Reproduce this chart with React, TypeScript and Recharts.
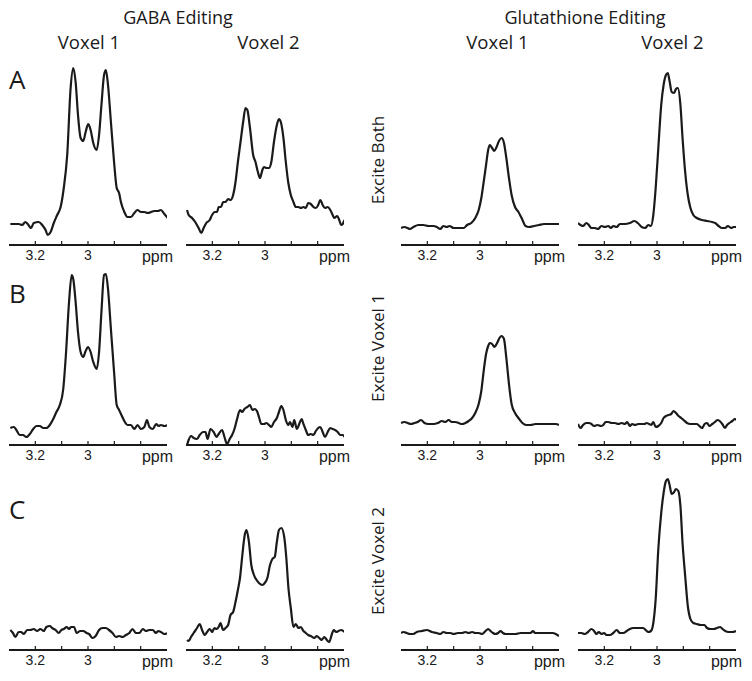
import React from 'react'
import { LineChart, Line, XAxis, YAxis, Label } from 'recharts'

// intensity in arbitrary units, [ppm, amplitude]
const gabaA1: [number, number][] = [
  [3.295, 21], [3.276, 21], [3.263, 21], [3.25, 20], [3.238, 23], [3.229, 21], [3.216, 17], [3.206, 22], [3.187, 23], [3.174, 20],
  [3.161, 15], [3.153, 10], [3.142, 13], [3.13, 22], [3.117, 30], [3.104, 38], [3.092, 57], [3.079, 90], [3.066, 157], [3.056, 177],
  [3.047, 163], [3.038, 130], [3.028, 107], [3.018, 104], [3.009, 113], [2.999, 121], [2.99, 115], [2.98, 102], [2.967, 95], [2.958, 110],
  [2.949, 140], [2.939, 170], [2.932, 175], [2.924, 160], [2.913, 123], [2.901, 83], [2.891, 57], [2.882, 52], [2.875, 43], [2.862, 33],
  [2.85, 28], [2.837, 28], [2.824, 32], [2.812, 35], [2.799, 33], [2.786, 33], [2.773, 32], [2.76, 33], [2.748, 34], [2.735, 34],
  [2.723, 35], [2.71, 31], [2.697, 27],
]

const gabaA2: [number, number][] = [
  [3.296, 35], [3.29, 30], [3.277, 27], [3.265, 23], [3.252, 17], [3.242, 12], [3.233, 17], [3.223, 22], [3.21, 25], [3.201, 30],
  [3.191, 33], [3.182, 33], [3.176, 38], [3.167, 38], [3.159, 43], [3.15, 43], [3.14, 46], [3.131, 45], [3.121, 50], [3.112, 63],
  [3.103, 83], [3.093, 103], [3.083, 123], [3.074, 137], [3.067, 135], [3.057, 117], [3.045, 90], [3.036, 83], [3.027, 73], [3.019, 67],
  [3.01, 75], [3.004, 78], [2.994, 77], [2.985, 77], [2.976, 83], [2.966, 103], [2.955, 120], [2.947, 126], [2.94, 123], [2.93, 107],
  [2.921, 83], [2.912, 63], [2.902, 50], [2.892, 43], [2.883, 38], [2.873, 38], [2.864, 37], [2.854, 38], [2.845, 37], [2.836, 42],
  [2.826, 41], [2.816, 38], [2.807, 37], [2.798, 40], [2.79, 45], [2.781, 40], [2.772, 37], [2.762, 38], [2.752, 35], [2.743, 30],
  [2.737, 27], [2.726, 29], [2.718, 25], [2.711, 20], [2.705, 21], [2.698, 25],
]

const glutA1: [number, number][] = [
  [3.3, 17], [3.287, 18], [3.275, 17], [3.266, 16], [3.253, 18], [3.234, 20], [3.215, 20], [3.196, 19], [3.177, 19], [3.164, 18],
  [3.151, 16], [3.139, 19], [3.126, 18], [3.116, 19], [3.1, 17], [3.081, 17], [3.062, 17], [3.049, 20], [3.033, 22], [3.018, 27],
  [3.005, 35], [2.995, 47], [2.986, 63], [2.977, 80], [2.969, 95], [2.963, 100], [2.954, 97], [2.946, 94], [2.937, 98], [2.928, 104],
  [2.918, 107], [2.909, 102], [2.9, 87], [2.89, 67], [2.88, 50], [2.867, 38], [2.854, 33], [2.842, 27], [2.827, 19], [2.814, 18],
  [2.795, 19], [2.776, 20], [2.757, 21], [2.738, 21], [2.719, 21], [2.7, 21],
]

const glutA2: [number, number][] = [
  [3.3, 22], [3.29, 20], [3.281, 19], [3.268, 22], [3.259, 20], [3.249, 17], [3.236, 17], [3.224, 16], [3.211, 19], [3.198, 18],
  [3.185, 19], [3.175, 17], [3.166, 19], [3.153, 18], [3.141, 21], [3.122, 21], [3.103, 22], [3.086, 24], [3.073, 22], [3.058, 18],
  [3.045, 17], [3.033, 20], [3.023, 19], [3.014, 30], [3.005, 57], [2.995, 97], [2.984, 140], [2.975, 160], [2.966, 170], [2.959, 172],
  [2.953, 165], [2.944, 153], [2.935, 152], [2.928, 156], [2.921, 157], [2.911, 140], [2.903, 107], [2.893, 73], [2.883, 50], [2.873, 37],
  [2.862, 30], [2.849, 27], [2.83, 25], [2.81, 24], [2.791, 23], [2.779, 22], [2.766, 19], [2.753, 17], [2.741, 17], [2.731, 19],
  [2.718, 17], [2.709, 18], [2.7, 18],
]

const gabaB1: [number, number][] = [
  [3.295, 17], [3.282, 18], [3.272, 15], [3.259, 10], [3.247, 10], [3.234, 8], [3.221, 11], [3.208, 16], [3.196, 19], [3.183, 19],
  [3.17, 17], [3.158, 17], [3.145, 20], [3.132, 26], [3.12, 33], [3.107, 40], [3.094, 56], [3.084, 90], [3.072, 143], [3.062, 170],
  [3.056, 166], [3.047, 143], [3.038, 113], [3.028, 93], [3.018, 88], [3.009, 94], [3.0, 98], [2.99, 93], [2.98, 83], [2.967, 76],
  [2.958, 93], [2.949, 133], [2.939, 170], [2.932, 171], [2.924, 156], [2.913, 116], [2.901, 73], [2.891, 40], [2.882, 35], [2.873, 30],
  [2.86, 23], [2.85, 20], [2.837, 20], [2.824, 16], [2.812, 20], [2.799, 16], [2.786, 18], [2.776, 25], [2.767, 18], [2.754, 16],
  [2.741, 21], [2.732, 19], [2.723, 20], [2.71, 19], [2.697, 20],
]

const gabaB2: [number, number][] = [
  [3.296, 0], [3.29, 5], [3.281, 9], [3.271, 7], [3.258, 6], [3.248, 10], [3.235, 13], [3.226, 13], [3.218, 6], [3.207, 16],
  [3.195, 13], [3.184, 8], [3.176, 11], [3.163, 15], [3.154, 8], [3.144, 1], [3.134, 6], [3.125, 10], [3.116, 16], [3.106, 26],
  [3.095, 35], [3.087, 33], [3.078, 36], [3.067, 38], [3.057, 40], [3.048, 35], [3.039, 36], [3.029, 33], [3.023, 28], [3.014, 21],
  [3.004, 21], [2.994, 22], [2.985, 20], [2.976, 18], [2.966, 23], [2.955, 27], [2.947, 33], [2.938, 39], [2.93, 35], [2.921, 25],
  [2.912, 20], [2.905, 23], [2.896, 18], [2.889, 25], [2.879, 16], [2.87, 21], [2.861, 26], [2.854, 21], [2.845, 15], [2.836, 10],
  [2.826, 11], [2.816, 10], [2.807, 14], [2.798, 17], [2.79, 18], [2.781, 13], [2.772, 8], [2.762, 13], [2.752, 17], [2.743, 16],
  [2.734, 15], [2.724, 13], [2.714, 10], [2.705, 10], [2.698, 8],
]

const glutB1: [number, number][] = [
  [3.3, 22], [3.287, 23], [3.275, 22], [3.262, 21], [3.249, 22], [3.237, 23], [3.224, 25], [3.211, 22], [3.196, 21], [3.177, 21],
  [3.16, 22], [3.145, 24], [3.132, 23], [3.119, 25], [3.107, 23], [3.094, 23], [3.081, 22], [3.068, 21], [3.056, 22], [3.043, 24],
  [3.03, 27], [3.018, 32], [3.005, 41], [2.995, 54], [2.986, 74], [2.977, 91], [2.969, 99], [2.963, 102], [2.954, 101], [2.945, 98],
  [2.935, 102], [2.926, 107], [2.918, 109], [2.909, 106], [2.9, 87], [2.89, 61], [2.88, 41], [2.867, 32], [2.854, 27], [2.839, 22],
  [2.824, 20], [2.808, 20], [2.789, 21], [2.77, 21], [2.75, 21], [2.731, 21], [2.712, 21], [2.7, 20],
]

const glutB2: [number, number][] = [
  [3.3, 21], [3.29, 17], [3.281, 20], [3.268, 22], [3.258, 22], [3.249, 21], [3.239, 19], [3.226, 20], [3.213, 19], [3.204, 20],
  [3.195, 23], [3.185, 23], [3.172, 22], [3.16, 22], [3.147, 21], [3.134, 22], [3.122, 21], [3.113, 23], [3.103, 19], [3.094, 21],
  [3.084, 20], [3.071, 21], [3.058, 21], [3.048, 21], [3.039, 22], [3.03, 21], [3.022, 20], [3.014, 23], [3.005, 18], [2.995, 19],
  [2.984, 22], [2.975, 27], [2.966, 29], [2.956, 30], [2.946, 31], [2.937, 34], [2.928, 32], [2.918, 29], [2.908, 27], [2.899, 25],
  [2.886, 22], [2.874, 21], [2.861, 21], [2.848, 21], [2.839, 19], [2.829, 17], [2.819, 21], [2.81, 22], [2.801, 19], [2.79, 21],
  [2.78, 23], [2.771, 25], [2.762, 24], [2.752, 21], [2.742, 17], [2.734, 20], [2.725, 22], [2.714, 24], [2.704, 26], [2.699, 25],
]

const gabaC1: [number, number][] = [
  [3.295, 20], [3.285, 17], [3.276, 13], [3.263, 18], [3.254, 18], [3.244, 16], [3.231, 20], [3.219, 20], [3.206, 21], [3.193, 19],
  [3.181, 21], [3.168, 19], [3.158, 23], [3.145, 24], [3.136, 22], [3.123, 20], [3.111, 17], [3.101, 20], [3.092, 21], [3.081, 23],
  [3.072, 21], [3.064, 23], [3.053, 23], [3.043, 17], [3.03, 19], [3.018, 19], [3.005, 17], [2.996, 16], [2.983, 12], [2.971, 14],
  [2.958, 20], [2.945, 22], [2.932, 22], [2.92, 20], [2.907, 17], [2.894, 13], [2.882, 14], [2.869, 13], [2.856, 15], [2.843, 17],
  [2.831, 21], [2.818, 17], [2.805, 17], [2.792, 21], [2.78, 19], [2.767, 20], [2.754, 20], [2.742, 17], [2.733, 19], [2.723, 18],
  [2.71, 16], [2.697, 17],
]

const gabaC2: [number, number][] = [
  [3.296, 10], [3.29, 9], [3.281, 13], [3.271, 17], [3.258, 22], [3.248, 26], [3.239, 20], [3.229, 15], [3.22, 18], [3.21, 21],
  [3.201, 18], [3.192, 22], [3.184, 21], [3.176, 23], [3.169, 27], [3.159, 20], [3.15, 22], [3.14, 25], [3.131, 35], [3.121, 38],
  [3.112, 48], [3.103, 60], [3.095, 72], [3.086, 95], [3.077, 115], [3.07, 120], [3.061, 108], [3.052, 85], [3.042, 75], [3.032, 70],
  [3.023, 67], [3.01, 65], [3.001, 67], [2.991, 72], [2.981, 85], [2.972, 91], [2.963, 93], [2.955, 108], [2.947, 120], [2.938, 122],
  [2.927, 113], [2.919, 92], [2.911, 62], [2.902, 42], [2.892, 23], [2.883, 26], [2.873, 22], [2.864, 23], [2.854, 19], [2.845, 17],
  [2.836, 15], [2.826, 14], [2.813, 12], [2.803, 14], [2.794, 12], [2.785, 10], [2.775, 13], [2.765, 10], [2.756, 8], [2.747, 15],
  [2.739, 20], [2.73, 18], [2.721, 19], [2.711, 20], [2.698, 18],
]

const glutC1: [number, number][] = [
  [3.3, 17], [3.291, 18], [3.278, 17], [3.266, 16], [3.253, 16], [3.24, 18], [3.221, 19], [3.202, 20], [3.183, 18], [3.164, 17],
  [3.151, 16], [3.139, 18], [3.126, 17], [3.113, 17], [3.1, 16], [3.084, 17], [3.068, 17], [3.056, 18], [3.043, 17], [3.03, 18],
  [3.018, 17], [3.005, 17], [2.992, 16], [2.979, 19], [2.969, 21], [2.96, 19], [2.951, 17], [2.941, 16], [2.931, 17], [2.922, 19],
  [2.913, 17], [2.903, 16], [2.884, 16], [2.865, 16], [2.846, 17], [2.827, 17], [2.808, 17], [2.799, 19], [2.791, 17], [2.776, 17],
  [2.757, 17], [2.738, 17], [2.725, 17], [2.712, 16], [2.7, 14],
]

const glutC2: [number, number][] = [
  [3.3, 17], [3.287, 17], [3.275, 16], [3.262, 18], [3.249, 21], [3.239, 19], [3.23, 16], [3.221, 18], [3.211, 16], [3.201, 17],
  [3.192, 15], [3.179, 15], [3.166, 17], [3.153, 20], [3.141, 17], [3.128, 17], [3.115, 19], [3.103, 21], [3.09, 22], [3.077, 22],
  [3.064, 22], [3.052, 22], [3.043, 20], [3.033, 18], [3.023, 19], [3.014, 27], [3.005, 51], [2.995, 101], [2.984, 137], [2.975, 157],
  [2.966, 169], [2.959, 171], [2.953, 166], [2.944, 156], [2.935, 158], [2.928, 161], [2.919, 159], [2.911, 144], [2.903, 107], [2.893, 74],
  [2.883, 44], [2.873, 31], [2.862, 27], [2.849, 26], [2.833, 25], [2.82, 25], [2.81, 22], [2.798, 21], [2.785, 21], [2.772, 22],
  [2.76, 23], [2.751, 21], [2.741, 19], [2.728, 18], [2.715, 18], [2.7, 19],
]

const TICKS = [3.2, 3.1, 3, 2.9, 2.8]
const TICK_LABELS: Record<string, string> = { '3.2': '3.2', '3': '3' }

const PLOT_H = 185
const PANEL_W = 158
const RIGHT_PAD = 24
const INK = '#1a1a1a'
const SANS = '"Open Sans", "Noto Sans", sans-serif'
const AXIS_FONT = '"Liberation Sans", Arial, sans-serif'

const renderTick = (props: any) => {
  const { x, y, payload } = props
  const label = TICK_LABELS[String(payload.value)]
  return (
    <g>
      <line x1={x} x2={x} y1={y - 4} y2={y} stroke={INK} strokeWidth={1.2} />
      {label && (
        <text x={x} y={y + 14.5} textAnchor="middle" fontSize={14} fontFamily={AXIS_FONT} fill={INK}>
          {label}
        </text>
      )}
    </g>
  )
}

const PpmLabel = (props: any) => {
  const vb = props.viewBox
  if (!vb) return null
  return (
    <text x={vb.x + vb.width + 6} y={vb.y + 17} textAnchor="end" fontSize={16} fontFamily={AXIS_FONT} fill={INK}>
      ppm
    </text>
  )
}

function Spectrum({ data, left, axisY }: { data: [number, number][]; left: number; axisY: number }) {
  const rows = data.map(([ppm, amp]) => ({ ppm, amp }))
  return (
    <div style={{ position: 'absolute', left, top: axisY - PLOT_H }}>
      <LineChart
        width={PANEL_W + RIGHT_PAD}
        height={PLOT_H + 30}
        data={rows}
        margin={{ top: 0, right: RIGHT_PAD, bottom: 0, left: 0 }}
      >
        <XAxis
          dataKey="ppm"
          type="number"
          domain={[2.7, 3.3]}
          reversed
          allowDataOverflow
          ticks={TICKS}
          interval={0}
          tick={renderTick}
          tickLine={false}
          tickSize={0}
          tickMargin={0}
          height={30}
          axisLine={{ stroke: INK, strokeWidth: 2.2 }}
        >
          <Label content={PpmLabel} />
        </XAxis>
        <YAxis hide type="number" domain={[0, PLOT_H]} allowDataOverflow />
        <Line
          dataKey="amp"
          type="monotone"
          stroke={INK}
          strokeWidth={2.2}
          dot={false}
          isAnimationActive={false}
        />
      </LineChart>
    </div>
  )
}

const COLS = [9, 186, 401, 578]
const ROWS = [245, 445, 650]

const panels: [number, number][][][] = [
  [gabaA1, gabaA2, glutA1, glutA2],
  [gabaB1, gabaB2, glutB1, glutB2],
  [gabaC1, gabaC2, glutC1, glutC2],
]

const rowLetters = [
  { text: 'A', y: 89 },
  { text: 'B', y: 303 },
  { text: 'C', y: 519 },
]

const exciteLabels = [
  { text: 'Excite Both', y: 160 },
  { text: 'Excite Voxel 1', y: 348 },
  { text: 'Excite Voxel 2', y: 561 },
]

export default function App() {
  return (
    <div style={{ position: 'absolute', left: 0, top: 0, width: 752, height: 681, background: '#fff', overflow: 'hidden' }}>
      <svg width={752} height={681} style={{ position: 'absolute', left: 0, top: 0 }}>
        <g fontFamily={SANS} fill={INK}>
          <text x={178} y={24} textAnchor="middle" fontSize={18}>GABA Editing</text>
          <text x={585} y={24} textAnchor="middle" fontSize={18}>Glutathione Editing</text>
          <text x={89} y={49} textAnchor="middle" fontSize={18.5}>Voxel 1</text>
          <text x={268.5} y={49} textAnchor="middle" fontSize={18.5}>Voxel 2</text>
          <text x={497.5} y={49} textAnchor="middle" fontSize={18.5}>Voxel 1</text>
          <text x={672.5} y={49} textAnchor="middle" fontSize={18.5}>Voxel 2</text>
          {rowLetters.map((l) => (
            <text key={l.text} x={9} y={l.y} fontSize={26}>{l.text}</text>
          ))}
          {exciteLabels.map((l) => (
            <text key={l.text} transform={`translate(384, ${l.y}) rotate(-90)`} textAnchor="middle" fontSize={17}>
              {l.text}
            </text>
          ))}
        </g>
      </svg>
      {panels.map((row, r) =>
        row.map((data, c) => <Spectrum key={`${r}-${c}`} data={data} left={COLS[c]} axisY={ROWS[r]} />)
      )}
    </div>
  )
}
